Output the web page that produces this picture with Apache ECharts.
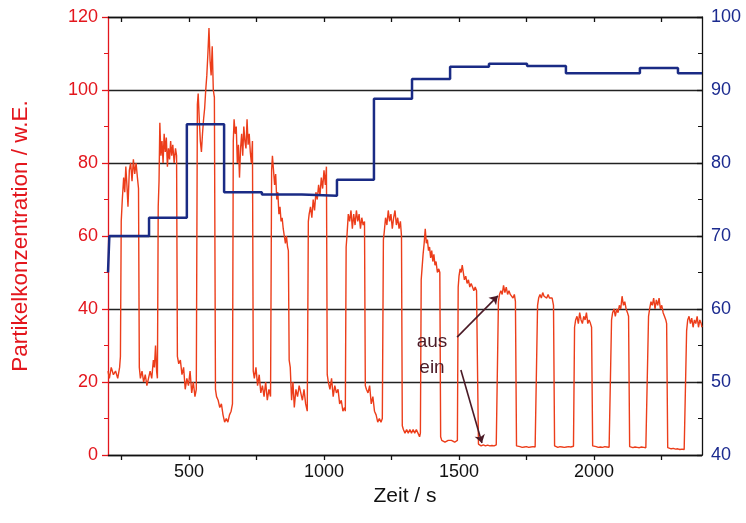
<!DOCTYPE html>
<html>
<head>
<meta charset="utf-8">
<script src="https://cdn.jsdelivr.net/npm/echarts@6/dist/echarts.min.js"></script>
<style>
  html, body { margin: 0; padding: 0; background: #fff; }
  #chart { width: 746px; height: 523px; }
</style>
</head>
<body>
<div id="chart"></div>
<script>
// Zeit / s, Partikelkonzentration (w.E.)
var partikel = [
  [200,23],[205,21],[212,24],[220,22],[228,23],[236,21],[243,24],[246,27],
  [249,64],[253,70],[258,76],[262,72],[266,79],[270,74],[274,68],[279,78],[284,80],[289,75],[294,81],[299,77],[304,80],[309,76],[313,73],
  [316,24],[320,21],[326,23],[332,20],[338,22],[344,19],[350,21],[356,23],[362,21],[368,26],[372,24],[376,30],[380,23],[383,21],
  [386,68],[389,75],[392,91],[396,82],[400,86],[404,80],[408,88],[412,83],[416,87],[420,79],[424,84],[428,81],[432,86],[436,82],[440,85],[445,80],[450,84],[454,82],
  [457,27],[462,25],[468,26],[474,22],[480,24],[486,18],[492,21],[498,19],[504,23],[510,17],[516,20],[522,16],[527,18],
  [531,96],[534,99],[538,92],[542,86],[546,83],[550,88],[554,92],[558,95],[562,100],[566,104],[570,110],[574,117],[578,108],[582,104],[586,112],[590,100],[594,98],
  [598,18],[602,16],[608,15],[614,13],[620,14],[626,11],[632,9],[638,10],[644,9],[650,11],[656,12],[661,14],
  [664,86],[667,92],[671,88],[675,90],[679,80],[683,85],[687,76],[691,84],[695,88],[699,82],[703,90],[707,86],[711,84],[715,92],[719,85],[723,88],[727,83],[731,80],[735,86],
  [738,23],[742,21],[748,24],[754,19],[760,22],[766,17],[772,19],[778,16],[784,20],[790,15],[796,18],[802,16],
  [806,78],[809,82],[813,78],[817,74],[821,77],[825,70],[829,72],[833,66],[837,68],[841,64],[845,65],[849,62],[853,60],[857,58],[861,60],[865,57],[868,56],
  [871,26],[875,24],[880,15],[885,20],[890,13],[896,18],[902,16],[908,19],[914,17],[920,15],[926,18],[932,14],[938,12],
  [942,64],[945,66],[950,68],[955,65],[960,70],[965,67],[970,72],[975,70],[980,74],[985,71],[990,76],[995,73],[1000,78],[1005,74],[1009,79],
  [1012,22],[1016,20],[1022,18],[1028,21],[1034,16],[1040,19],[1046,17],[1052,18],[1058,14],[1064,15],[1070,12],[1076,13],[1079,12],
  [1082,57],[1085,60],[1090,66],[1095,64],[1100,67],[1105,62],[1110,66],[1115,63],[1120,67],[1125,64],[1130,66],[1135,62],[1140,65],[1145,63],[1150,64],
  [1153,19],[1157,18],[1163,17],[1169,19],[1175,14],[1181,16],[1187,12],[1193,11],[1199,9],[1205,10],[1211,9],[1216,10],
  [1220,59],[1223,61],[1228,65],[1233,63],[1238,67],[1243,64],[1248,66],[1253,62],[1258,65],[1263,67],[1268,63],[1273,65],[1278,62],[1283,64],[1287,60],
  [1290,8],[1294,7],[1300,6],[1306,7],[1312,6],[1318,7],[1324,6],[1330,7],[1336,6],[1342,7],[1348,6],[1354,5],[1357,6],
  [1360,48],[1363,51],[1367,55],[1371,58],[1375,62],[1379,58],[1383,59],[1387,56],[1391,57],[1395,54],[1399,56],[1403,53],[1407,55],[1411,52],[1415,53],[1420,50],[1425,51],[1429,50],
  [1432,5],[1436,4],[1442,4],[1448,3.5],[1454,4],[1460,4],[1466,3.5],[1472,4],[1478,4],[1484,3.5],[1490,4],[1494,4],
  [1497,46],[1500,49],[1504,51],[1508,50],[1512,52],[1516,50],[1520,48],[1525,49],[1530,47],[1535,48],[1540,46],[1545,47],[1550,46],[1555,45],[1560,46],[1565,45],[1568,45],
  [1572,3],[1576,2.7],[1582,2.5],[1590,2.8],[1598,2.5],[1606,2.7],[1614,2.5],[1622,2.6],[1630,2.5],[1638,2.8],[1642,3],
  [1646,42],[1650,44],[1655,45],[1660,44],[1665,46.5],[1670,44.5],[1675,46],[1680,44],[1685,45],[1690,44],[1695,44.5],[1700,43],[1705,44],[1709,42],
  [1713,2.5],[1718,2.2],[1726,2.3],[1734,2.1],[1742,2.2],[1750,2.3],[1758,2.1],[1766,2.2],[1774,2.3],[1782,2.2],[1787,2.5],
  [1791,41],[1795,43],[1800,44],[1805,43],[1810,44.5],[1815,43.5],[1820,44],[1825,43],[1830,44],[1835,43],[1840,42.5],[1845,43],[1850,41],
  [1854,2.5],[1858,2.2],[1866,2.1],[1874,2.3],[1882,2.2],[1890,2.1],[1898,2.2],[1906,2.3],[1914,2.2],[1920,2.1],[1924,2.4],
  [1928,35],[1932,37],[1937,38],[1942,36],[1947,39],[1952,37],[1957,36],[1962,38],[1967,37],[1972,39],[1977,36],[1982,37],[1987,36],[1991,35],
  [1995,2.5],[2000,2.2],[2008,2.3],[2016,2.1],[2024,2.2],[2032,2.1],[2040,2.3],[2048,2.2],[2056,2.1],[2061,2.4],
  [2065,37],[2069,39],[2074,40],[2079,38],[2084,40],[2089,39],[2094,41],[2099,40],[2104,43.5],[2109,41],[2114,42],[2119,40],[2124,39],[2128,38],
  [2132,2.3],[2136,2.1],[2144,2.0],[2152,2.2],[2160,2.1],[2168,2.0],[2176,2.2],[2184,2.1],[2192,2.0],[2198,2.3],
  [2202,38],[2206,40],[2211,42],[2216,41],[2221,43],[2226,40],[2231,42.5],[2236,41],[2241,43],[2246,40],[2251,41],[2256,39],[2261,38],[2266,37],[2269,36],
  [2273,2],[2278,1.8],[2286,1.7],[2294,1.8],[2302,1.6],[2310,1.7],[2318,1.5],[2326,1.6],[2334,1.5],[2339,1.8],
  [2343,34],[2347,37],[2352,38],[2357,36],[2362,37.5],[2367,35],[2372,37],[2377,36],[2382,38],[2387,35],[2392,37],[2397,36],[2400,35]
];

// blue step curve on the right axis: [time where level starts, level]
var stufen = [
  [200,65],[205,70],[352,72.5],[492,85.3],[630,76.0],[770,75.7],[918,75.5],[1048,77.7],
  [1185,88.8],[1326,91.5],[1467,93.2],[1611,93.6],[1752,93.3],[1896,92.3],[2170,93.0],[2311,92.3],[2400,92.3]
];

var xLabels = [500, 1000, 1500, 2000];
var xTicks = [250, 500, 750, 1000, 1250, 1500, 1750, 2000, 2250];

// annotation text + arrows (data coords)
var notes = [
  { text: 'aus', at: [1400, 31.0], from: [1493, 32.3], to: [1644, 43.6] },
  { text: 'ein', at: [1400, 24.0], from: [1507, 23.3], to: [1585, 3.3] }
];

var red = '#e3161d';
var blue = '#1b2a8f';
var noteCol = '#4a1a26';
var font = 'Liberation Sans';

var chart = echarts.init(document.getElementById('chart'));

var option = {
  animation: false,
  backgroundColor: '#fff',
  textStyle: { fontFamily: font },
  grid: { left: 108, right: 44, top: 17, bottom: 68 },
  xAxis: [
    {
      type: 'value', min: 200, max: 2400, position: 'bottom',
      name: 'Zeit / s', nameLocation: 'middle', nameGap: 30,
      nameTextStyle: { color: '#111', fontSize: 21, fontFamily: font },
      axisLine: { lineStyle: { color: '#111', width: 1.3 } },
      axisTick: { inside: false, length: 5, customValues: xTicks, lineStyle: { color: '#111', width: 1.3 } },
      axisLabel: {
        customValues: xLabels, color: '#111', fontSize: 18, margin: 8,
        formatter: function (v) { return String(v); }
      },
      splitLine: { show: false }
    },
    {
      // top border with inward ticks
      type: 'value', min: 200, max: 2400, position: 'top',
      axisLine: { lineStyle: { color: '#111', width: 1.3 } },
      axisTick: { inside: true, length: 5, customValues: xTicks, lineStyle: { color: '#111', width: 1.3 } },
      axisLabel: { show: false },
      splitLine: { show: false }
    }
  ],
  yAxis: [
    {
      type: 'value', min: 0, max: 120, interval: 20, position: 'left',
      name: 'Partikelkonzentration / w.E.', nameLocation: 'middle', nameGap: 76,
      nameTextStyle: { color: red, fontSize: 22.5, fontFamily: font },
      axisLine: { show: true, lineStyle: { color: red, width: 1.3 } },
      axisTick: { show: true, inside: false, length: 6, lineStyle: { color: red, width: 1.3 } },
      minorTick: { show: true, splitNumber: 2, length: 4, lineStyle: { color: red } },
      axisLabel: { color: red, fontSize: 18, margin: 10 },
      splitLine: { show: true, lineStyle: { color: '#222', width: 1.3 } }
    },
    {
      type: 'value', min: 40, max: 100, interval: 10, position: 'right',
      axisLine: { show: true, lineStyle: { color: '#111', width: 1.3 } },
      axisTick: { show: true, inside: true, length: 5, lineStyle: { color: '#111', width: 1.3 } },
      minorTick: { show: true, splitNumber: 2, length: 4, lineStyle: { color: '#111' } },
      axisLabel: { color: blue, fontSize: 18, margin: 9 },
      splitLine: { show: false }
    }
  ],
  series: [
    {
      name: 'Partikelkonzentration',
      type: 'line',
      xAxisIndex: 0, yAxisIndex: 0,
      data: partikel,
      showSymbol: false,
      lineStyle: { color: '#ec3d1a', width: 1.4 },
      z: 3,
      markLine: {
        silent: true,
        symbol: ['none', 'arrow'],
        symbolSize: 8,
        label: { show: false },
        lineStyle: { color: noteCol, width: 1.6, type: 'solid' },
        data: notes.map(function (n) {
          return [{ coord: n.from }, { coord: n.to }];
        })
      },
      markPoint: {
        silent: true,
        symbol: 'circle',
        symbolSize: 0,
        data: notes.map(function (n) {
          return {
            coord: n.at,
            label: { show: true, formatter: n.text, position: 'inside', color: noteCol, fontSize: 19, fontFamily: font }
          };
        })
      }
    },
    {
      name: 'Stufe',
      type: 'line',
      xAxisIndex: 0, yAxisIndex: 1,
      step: 'end',
      data: stufen,
      showSymbol: false,
      lineStyle: { color: '#1a2b85', width: 2.5 },
      z: 4
    }
  ]
};

chart.setOption(option);
</script>
</body>
</html>
